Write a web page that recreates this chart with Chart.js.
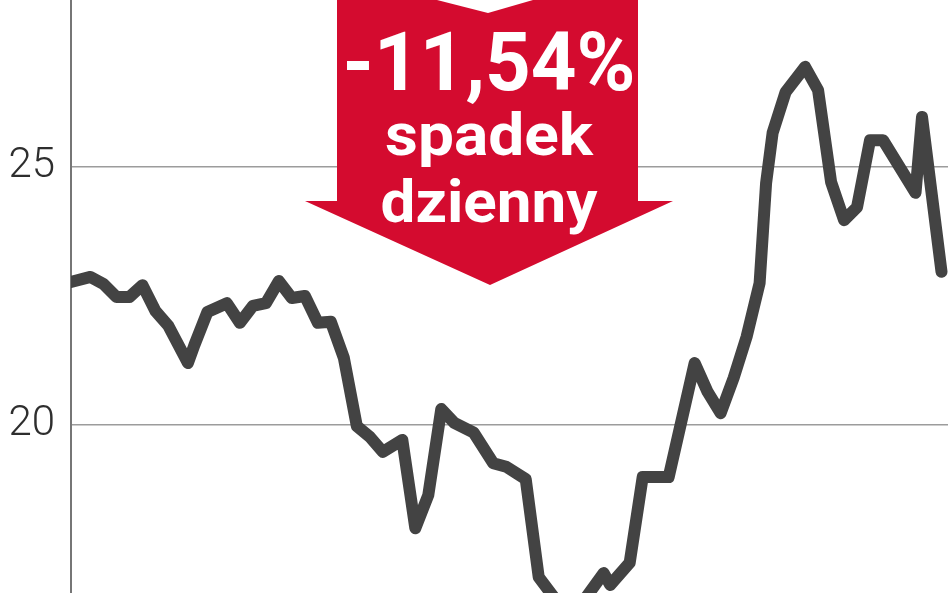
<!DOCTYPE html>
<html>
<head>
<meta charset="utf-8">
<script src="https://cdn.jsdelivr.net/npm/chart.js@4/dist/chart.umd.min.js"></script>
<style>
  html, body { margin: 0; padding: 0; background: #fff; }
  #wrap { width: 948px; height: 593px; position: relative; }
</style>
</head>
<body>
<div id="wrap"><canvas id="priceChart"></canvas></div>
<script>
// trading day index and closing price
const days = [0, 3, 5, 7, 9, 11, 13, 15, 18, 19, 21, 24, 26, 28, 30, 32, 34, 36, 38, 40,
    42, 44, 46, 48, 51, 53, 55, 57, 59, 62, 65, 67, 70, 72, 75, 79, 82, 83, 86, 88,
    92, 96, 98, 100, 102, 104, 106, 107, 108, 110, 113, 115, 117, 119, 121, 123, 125, 130, 131, 134];
const prices = [22.77, 22.87, 22.73, 22.48, 22.48, 22.71, 22.21, 21.92, 21.2, 21.55,
    22.19, 22.36, 21.98, 22.31, 22.36, 22.79, 22.46, 22.5, 21.98, 22.0,
    21.3, 19.98, 19.77, 19.48, 19.71, 18.0, 18.64, 20.31, 20.04, 19.85,
    19.26, 19.19, 18.95, 17.05, 16.55, 16.61, 17.13, 16.9, 17.33, 18.99,
    18.99, 21.2, 20.64, 20.23, 20.91, 21.71, 22.75, 24.69, 25.66, 26.45,
    26.94, 26.49, 24.71, 23.97, 24.22, 25.52, 25.52, 24.5, 25.97, 22.97];
const yTicks = [20, 25];
const calloutLines = ["-11,54%", "spadek", "dzienny"];

const points = days.map((d, i) => ({ x: d, y: prices[i] }));

// red arrow with the daily-drop label
const calloutPlugin = {
    id: "callout",
    afterDatasetsDraw(chart) {
        const ctx = chart.ctx;
        ctx.save();
        ctx.fillStyle = "#d40b2f";
        ctx.beginPath();
        ctx.moveTo(337, 0);
        ctx.lineTo(638, 0);
        ctx.lineTo(638, 201);
        ctx.lineTo(673, 201);
        ctx.lineTo(490, 285);
        ctx.lineTo(305, 201);
        ctx.lineTo(337, 201);
        ctx.closePath();
        ctx.fill();

        ctx.fillStyle = "#ffffff";
        ctx.beginPath();
        ctx.moveTo(437, 0);
        ctx.lineTo(533, 0);
        ctx.lineTo(488, 13);
        ctx.closePath();
        ctx.fill();

        const specs = [
            { size: 81, base: 90, width: 293 },
            { size: 60, base: 155, width: 208 },
            { size: 60, base: 222, width: 217 },
        ];
        ctx.textAlign = "center";
        ctx.textBaseline = "alphabetic";
        calloutLines.forEach((txt, i) => {
            const s = specs[i];
            ctx.font = "bold " + s.size + "px Roboto, 'DejaVu Sans', sans-serif";
            const w = ctx.measureText(txt).width;
            ctx.save();
            ctx.translate(489, s.base);
            ctx.scale(s.width / w, 1);
            ctx.fillText(txt, 0, 0);
            ctx.restore();
        });
        ctx.restore();
    },
};

new Chart(document.getElementById("priceChart"), {
    type: "line",
    data: {
        datasets: [
            {
                data: points,
                borderColor: "#434343",
                borderWidth: 12,
                borderJoinStyle: "round",
                borderCapStyle: "round",
                pointRadius: 0,
                tension: 0,
                fill: false,
            },
        ],
    },
    options: {
        responsive: true,
        maintainAspectRatio: false,
        animation: false,
        layout: { padding: 0 },
        plugins: {
            legend: { display: false },
            tooltip: { enabled: false },
        },
        scales: {
            x: {
                type: "linear",
                min: 0,
                max: 135,
                display: false,
            },
            y: {
                min: 16.744,
                max: 28.236,
                afterBuildTicks: (axis) => {
                    axis.ticks = yTicks.map((v) => ({ value: v }));
                },
                afterFit: (axis) => {
                    axis.width = 71;
                    axis.paddingTop = 0;
                    axis.paddingBottom = 0;
                },
                grid: {
                    color: "#9c9c9c",
                    lineWidth: 1.5,
                    drawTicks: false,
                },
                border: { display: true, color: "#767676", width: 2 },
                ticks: {
                    color: "#2e2e2e",
                    padding: 16,
                    font: { family: "Roboto", size: 42, weight: "300" },
                },
            },
        },
    },
    plugins: [calloutPlugin],
});
</script>
</body>
</html>
